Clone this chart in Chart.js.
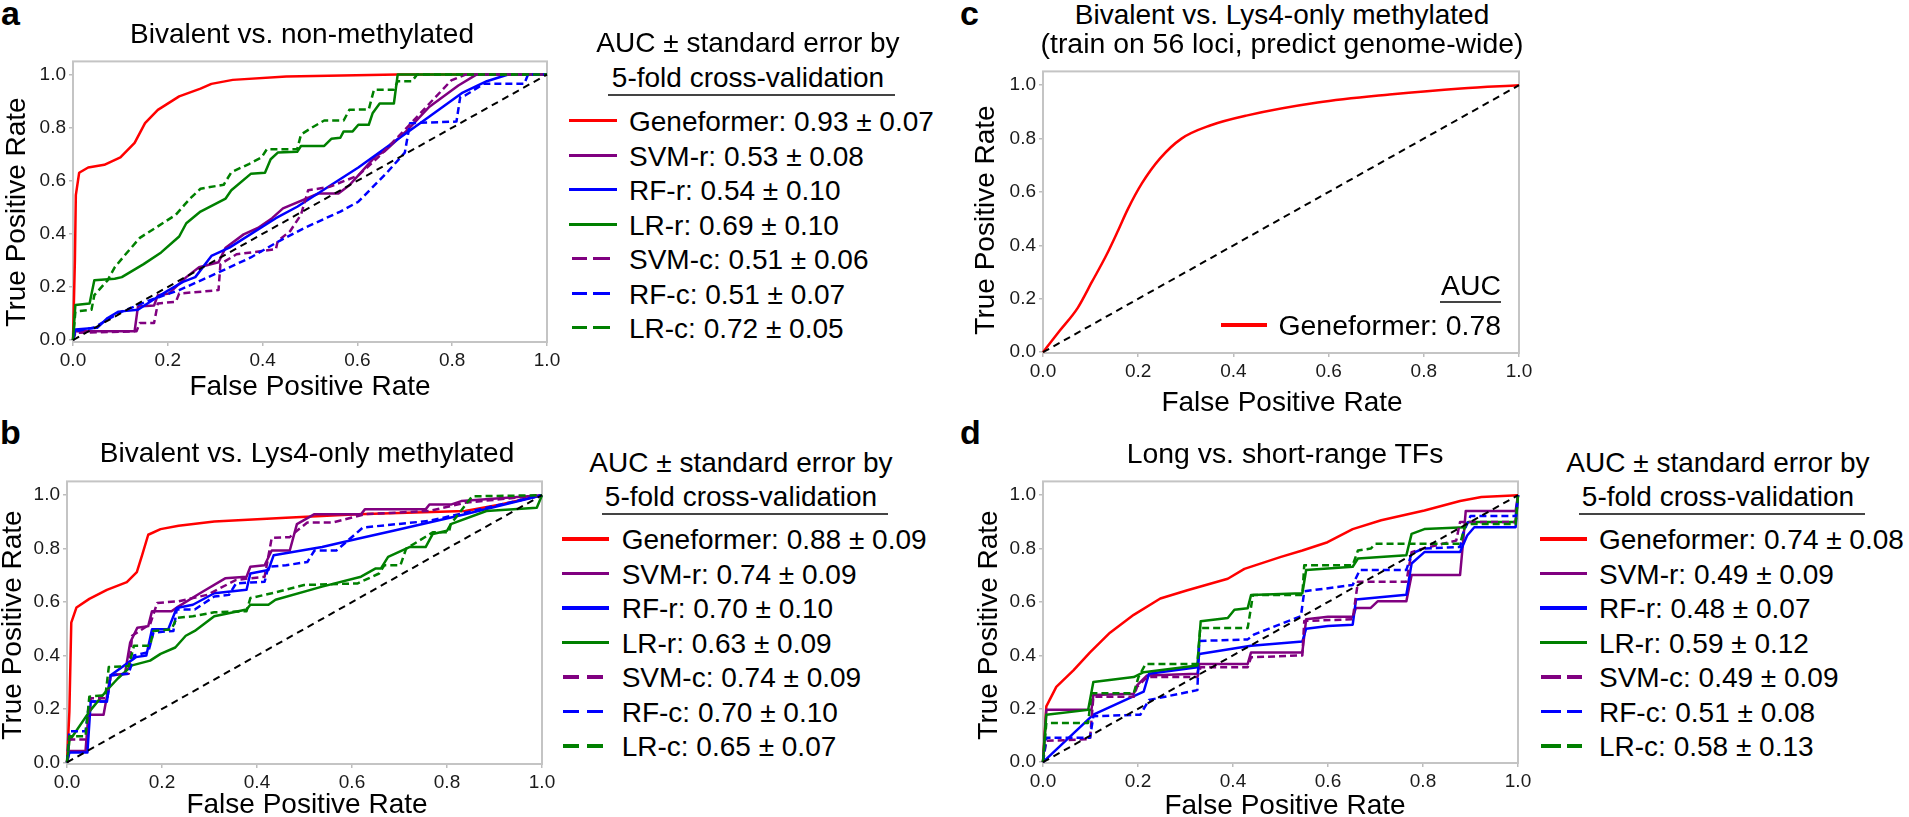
<!DOCTYPE html>
<html>
<head>
<meta charset="utf-8">
<script src="https://cdn.jsdelivr.net/npm/chart.js@4.4.1/dist/chart.umd.min.js"></script>
<style>
html,body{margin:0;padding:0;background:#fff;}
body{position:relative;width:1909px;height:817px;overflow:hidden;font-family:"Liberation Sans",Arial,Helvetica,sans-serif;color:#000;}
canvas{position:absolute;}
.t{position:absolute;white-space:nowrap;line-height:1;}
.ln{position:absolute;}
</style>
</head>
<body>
<canvas id="cA"></canvas>
<canvas id="cB"></canvas>
<canvas id="cC"></canvas>
<canvas id="cD"></canvas>
<script>
// ---------------- DATA ----------------
const tickValues = [0, 0.2, 0.4, 0.6, 0.8, 1.0];
const modelNames = ['Geneformer', 'SVM-r', 'RF-r', 'LR-r', 'SVM-c', 'RF-c', 'LR-c'];
const aucA = ['0.93 ± 0.07', '0.53 ± 0.08', '0.54 ± 0.10', '0.69 ± 0.10', '0.51 ± 0.06', '0.51 ± 0.07', '0.72 ± 0.05'];
const aucB = ['0.88 ± 0.09', '0.74 ± 0.09', '0.70 ± 0.10', '0.63 ± 0.09', '0.74 ± 0.09', '0.70 ± 0.10', '0.65 ± 0.07'];
const aucC = ['0.78'];
const aucD = ['0.74 ± 0.08', '0.49 ± 0.09', '0.48 ± 0.07', '0.59 ± 0.12', '0.49 ± 0.09', '0.51 ± 0.08', '0.58 ± 0.13'];
const chance = [[0, 0], [1, 1]];

// Panel a: Bivalent vs. non-methylated
const aGeneformer = [[0,0],[0.004,0.30],[0.006,0.546],[0.013,0.63],[0.032,0.65],[0.066,0.66],[0.10,0.688],[0.13,0.743],[0.152,0.817],[0.179,0.867],[0.224,0.918],[0.269,0.947],[0.292,0.965],[0.337,0.98],[0.45,0.993],[0.685,1.0],[1,1]];
const aSvmR = [[0,0],[0.005,0.033],[0.13,0.033],[0.137,0.126],[0.171,0.13],[0.179,0.169],[0.202,0.175],[0.239,0.237],[0.266,0.274],[0.307,0.293],[0.322,0.348],[0.36,0.398],[0.39,0.422],[0.42,0.459],[0.443,0.496],[0.518,0.552],[0.56,0.552],[0.583,0.583],[0.602,0.62],[0.639,0.694],[0.658,0.712],[0.707,0.793],[0.752,0.879],[0.813,0.959],[0.851,1.0],[1,1]];
const aRfR = [[0,0],[0.005,0.04],[0.051,0.046],[0.073,0.083],[0.096,0.107],[0.137,0.114],[0.179,0.163],[0.202,0.188],[0.232,0.219],[0.258,0.237],[0.292,0.317],[0.33,0.348],[0.428,0.459],[0.473,0.502],[0.602,0.65],[0.752,0.842],[0.82,0.93],[0.873,0.975],[0.918,1.0],[1,1]];
const aLrR = [[0,0],[0.005,0.132],[0.035,0.138],[0.045,0.225],[0.088,0.231],[0.103,0.237],[0.149,0.286],[0.186,0.33],[0.224,0.39],[0.239,0.44],[0.269,0.484],[0.322,0.533],[0.334,0.564],[0.375,0.626],[0.405,0.63],[0.417,0.681],[0.432,0.706],[0.473,0.709],[0.481,0.731],[0.53,0.731],[0.545,0.758],[0.564,0.762],[0.571,0.786],[0.59,0.786],[0.602,0.811],[0.624,0.811],[0.632,0.854],[0.647,0.891],[0.677,0.891],[0.685,1.0],[1,1]];
const aSvmC = [[0,0],[0.005,0.027],[0.134,0.033],[0.141,0.064],[0.171,0.064],[0.179,0.138],[0.217,0.144],[0.224,0.175],[0.307,0.188],[0.311,0.286],[0.345,0.323],[0.428,0.342],[0.432,0.373],[0.458,0.41],[0.481,0.472],[0.496,0.564],[0.541,0.577],[0.602,0.62],[0.647,0.694],[0.707,0.805],[0.752,0.891],[0.798,0.978],[0.828,1.0],[1,1]];
const aRfC = [[0,0],[0.005,0.033],[0.043,0.046],[0.073,0.077],[0.103,0.107],[0.164,0.151],[0.224,0.188],[0.3,0.249],[0.375,0.311],[0.435,0.373],[0.488,0.422],[0.564,0.484],[0.602,0.521],[0.662,0.63],[0.70,0.706],[0.711,0.817],[0.809,0.823],[0.817,0.916],[0.828,0.922],[0.866,0.965],[0.952,0.965],[0.96,1.0],[1,1]];
const aLrC = [[0,0],[0.005,0.107],[0.039,0.114],[0.045,0.169],[0.073,0.225],[0.088,0.274],[0.111,0.323],[0.141,0.385],[0.179,0.428],[0.217,0.472],[0.235,0.509],[0.247,0.533],[0.269,0.57],[0.318,0.585],[0.334,0.632],[0.371,0.663],[0.398,0.688],[0.409,0.719],[0.473,0.719],[0.481,0.774],[0.503,0.799],[0.53,0.827],[0.571,0.827],[0.583,0.867],[0.624,0.869],[0.635,0.943],[0.677,0.943],[0.685,0.975],[0.715,0.975],[0.726,1.0],[1,1]];

// Panel b: Bivalent vs. Lys4-only methylated
const bGeneformer = [[0,0],[0.005,0.19],[0.009,0.523],[0.02,0.58],[0.047,0.612],[0.084,0.646],[0.126,0.675],[0.147,0.712],[0.158,0.775],[0.171,0.852],[0.197,0.873],[0.235,0.886],[0.31,0.902],[0.461,0.916],[0.612,0.929],[0.838,0.941],[0.913,0.965],[1,1]];
const bSvmR = [[0,0],[0.005,0.043],[0.039,0.043],[0.045,0.178],[0.077,0.178],[0.092,0.326],[0.122,0.332],[0.133,0.449],[0.148,0.504],[0.171,0.51],[0.179,0.566],[0.22,0.566],[0.235,0.584],[0.28,0.633],[0.333,0.689],[0.378,0.695],[0.386,0.732],[0.416,0.738],[0.431,0.793],[0.469,0.793],[0.484,0.892],[0.521,0.929],[0.619,0.929],[0.627,0.947],[0.755,0.947],[0.763,0.965],[0.808,0.965],[0.83,0.978],[1,1]];
const bRfR = [[0,0],[0.005,0.037],[0.043,0.037],[0.05,0.228],[0.084,0.228],[0.092,0.326],[0.145,0.394],[0.167,0.4],[0.179,0.498],[0.213,0.498],[0.231,0.578],[0.265,0.59],[0.31,0.633],[0.378,0.646],[0.386,0.707],[0.424,0.72],[0.435,0.775],[0.537,0.806],[0.612,0.837],[0.687,0.867],[0.838,0.929],[1,1]];
const bLrR = [[0,0],[0.005,0.08],[0.047,0.19],[0.084,0.27],[0.107,0.314],[0.137,0.363],[0.175,0.381],[0.197,0.406],[0.228,0.43],[0.25,0.474],[0.269,0.492],[0.31,0.547],[0.378,0.572],[0.386,0.59],[0.424,0.59],[0.439,0.609],[0.537,0.658],[0.619,0.695],[0.65,0.726],[0.661,0.726],[0.676,0.769],[0.721,0.806],[0.755,0.806],[0.77,0.855],[0.80,0.867],[0.808,0.892],[0.883,0.941],[0.989,0.953],[1,1]];
const bSvmC = [[0,0],[0.005,0.086],[0.039,0.086],[0.05,0.24],[0.084,0.24],[0.092,0.326],[0.13,0.332],[0.137,0.474],[0.175,0.517],[0.19,0.597],[0.235,0.603],[0.295,0.627],[0.356,0.683],[0.416,0.695],[0.431,0.84],[0.469,0.843],[0.484,0.867],[0.506,0.898],[0.559,0.898],[0.627,0.929],[0.763,0.941],[0.838,0.972],[1,1]];
const bRfC = [[0,0],[0.005,0.117],[0.039,0.117],[0.047,0.228],[0.084,0.228],[0.092,0.326],[0.13,0.332],[0.141,0.4],[0.171,0.412],[0.182,0.486],[0.224,0.492],[0.231,0.572],[0.269,0.572],[0.31,0.621],[0.341,0.627],[0.356,0.67],[0.416,0.676],[0.424,0.732],[0.461,0.738],[0.506,0.75],[0.521,0.793],[0.567,0.793],[0.623,0.879],[0.763,0.904],[0.913,0.965],[1,1]];
const bLrC = [[0,0],[0.005,0.098],[0.039,0.098],[0.047,0.246],[0.081,0.252],[0.088,0.357],[0.13,0.36],[0.141,0.437],[0.175,0.437],[0.182,0.492],[0.22,0.498],[0.231,0.541],[0.265,0.547],[0.31,0.562],[0.378,0.566],[0.386,0.615],[0.431,0.633],[0.499,0.664],[0.612,0.67],[0.657,0.707],[0.668,0.738],[0.702,0.738],[0.714,0.8],[0.77,0.861],[0.804,0.861],[0.808,0.892],[0.853,0.996],[1,1]];

// Panel c: train on 56 loci, predict genome-wide
const cGeneformer = [[0,0],[0.035,0.08],[0.073,0.166],[0.103,0.264],[0.133,0.363],[0.156,0.449],[0.178,0.535],[0.208,0.633],[0.246,0.726],[0.291,0.8],[0.351,0.849],[0.427,0.886],[0.577,0.935],[0.728,0.965],[0.878,0.988],[1,1]];

// Panel d: Long vs. short-range TFs
const dGeneformer = [[0,0],[0.007,0.209],[0.028,0.282],[0.064,0.344],[0.099,0.411],[0.141,0.485],[0.191,0.552],[0.247,0.613],[0.304,0.644],[0.389,0.687],[0.424,0.724],[0.501,0.769],[0.546,0.793],[0.599,0.824],[0.652,0.873],[0.712,0.906],[0.803,0.943],[0.878,0.978],[0.923,0.993],[1,1]];
const dSvmR = [[0,0],[0.007,0.196],[0.102,0.196],[0.106,0.252],[0.191,0.256],[0.198,0.288],[0.219,0.325],[0.325,0.331],[0.329,0.368],[0.431,0.368],[0.438,0.411],[0.546,0.411],[0.554,0.535],[0.60,0.545],[0.652,0.545],[0.659,0.578],[0.69,0.578],[0.705,0.603],[0.765,0.603],[0.776,0.701],[0.878,0.701],[0.885,0.836],[0.89,0.941],[0.995,0.941],[1,1]];
const dRfR = [[0,0],[0.106,0.178],[0.212,0.264],[0.223,0.331],[0.325,0.356],[0.329,0.405],[0.438,0.436],[0.546,0.452],[0.554,0.50],[0.60,0.51],[0.652,0.515],[0.659,0.609],[0.765,0.627],[0.776,0.744],[0.803,0.787],[0.878,0.787],[0.893,0.849],[0.908,0.88],[0.995,0.88],[1,1]];
const dLrR = [[0,0],[0.007,0.178],[0.095,0.196],[0.106,0.30],[0.191,0.319],[0.212,0.337],[0.325,0.362],[0.332,0.528],[0.389,0.54],[0.403,0.571],[0.431,0.577],[0.438,0.626],[0.546,0.633],[0.554,0.72],[0.652,0.732],[0.663,0.763],[0.765,0.775],[0.776,0.855],[0.803,0.873],[0.889,0.88],[0.895,0.90],[0.995,0.90],[1,1]];
const dSvmC = [[0,0],[0.007,0.08],[0.099,0.086],[0.106,0.245],[0.191,0.245],[0.198,0.282],[0.219,0.319],[0.325,0.319],[0.332,0.356],[0.431,0.356],[0.438,0.393],[0.546,0.40],[0.55,0.529],[0.652,0.535],[0.663,0.676],[0.765,0.676],[0.776,0.787],[0.80,0.80],[0.87,0.83],[0.878,0.90],[0.995,0.90],[1,1]];
const dRfC = [[0,0],[0.007,0.092],[0.099,0.092],[0.106,0.172],[0.205,0.178],[0.223,0.233],[0.325,0.27],[0.329,0.454],[0.431,0.46],[0.445,0.479],[0.543,0.547],[0.55,0.64],[0.652,0.664],[0.667,0.72],[0.765,0.72],[0.776,0.781],[0.80,0.80],[0.878,0.806],[0.885,0.861],[0.90,0.922],[0.995,0.922],[1,1]];
const dLrC = [[0,0],[0.007,0.147],[0.095,0.147],[0.102,0.258],[0.191,0.258],[0.201,0.319],[0.216,0.368],[0.325,0.368],[0.331,0.503],[0.431,0.503],[0.442,0.626],[0.546,0.626],[0.55,0.738],[0.652,0.738],[0.663,0.793],[0.69,0.80],[0.70,0.818],[0.878,0.818],[0.89,0.892],[0.995,0.892],[1,1]];

// ---------------- STYLE / LAYOUT ----------------
const FONT = '"Liberation Sans", Arial, Helvetica, sans-serif';
const seriesColors = ['#ff0000', '#800080', '#0000ff', '#008000', '#800080', '#0000ff', '#008000'];
const seriesDashed = [false, false, false, false, true, true, true];

Chart.defaults.font.family = FONT;

const framePlugin = {
  id: 'frame',
  beforeDatasetsDraw(chart) {
    const a = chart.chartArea, ctx = chart.ctx;
    ctx.save();
    ctx.strokeStyle = '#c4c4c4';
    ctx.lineWidth = 2;
    ctx.strokeRect(a.left, a.top, a.right - a.left, a.bottom - a.top);
    ctx.restore();
  }
};

function xy(arr) { return arr.map(p => ({x: p[0], y: p[1]})); }

function makePanel(id, area, yRange, series, smooth) {
  const M = {l: 80, t: 10, r: 20, b: 60};
  const c = document.getElementById(id);
  const w = Math.round(area.right - area.left) + M.l + M.r;
  const h = Math.round(area.bottom - area.top) + M.t + M.b;
  c.width = w; c.height = h;
  c.style.width = w + 'px'; c.style.height = h + 'px';
  c.style.left = (area.left - M.l) + 'px';
  c.style.top = (area.top - M.t) + 'px';
  const datasets = [{
    data: xy(chance), borderColor: '#000', borderDash: [7, 5], borderWidth: 2
  }];
  for (let i = series.length - 1; i >= 0; i--) {
    datasets.push({
      data: xy(series[i]),
      borderColor: seriesColors[i],
      borderDash: seriesDashed[i] ? [7, 4] : [],
      borderWidth: 2.5,
      tension: smooth ? 0.4 : 0,
      cubicInterpolationMode: smooth ? 'monotone' : 'default'
    });
  }
  datasets.forEach(d => { d.showLine = true; d.pointRadius = 0; d.fill = false; d.clip = 4; d.borderJoinStyle = 'round'; });
  const tickFont = {size: 19, family: FONT};
  const grid = {display: true, drawOnChartArea: false, drawTicks: true, tickLength: 4, color: '#bdbdbd', lineWidth: 1.5};
  new Chart(c, {
    type: 'scatter',
    data: {datasets},
    plugins: [framePlugin],
    options: {
      responsive: false, animation: false, devicePixelRatio: 1,
      layout: {padding: {left: 0, top: M.t, right: M.r, bottom: 0}},
      plugins: {legend: {display: false}, tooltip: {enabled: false}},
      scales: {
        x: {
          type: 'linear', min: 0, max: 1,
          afterBuildTicks: s => { s.ticks = tickValues.map(v => ({value: v})); },
          afterFit: s => { s.height = M.b; },
          grid, border: {display: false},
          ticks: {font: tickFont, color: '#1a1a1a', padding: 3, maxRotation: 0, autoSkip: false, callback: v => Number(v).toFixed(1)}
        },
        y: {
          type: 'linear', min: yRange[0], max: yRange[1],
          afterBuildTicks: s => { s.ticks = tickValues.map(v => ({value: v})); },
          afterFit: s => { s.width = M.l; },
          grid, border: {display: false},
          ticks: {font: tickFont, color: '#1a1a1a', padding: 3, autoSkip: false, callback: v => Number(v).toFixed(1)}
        }
      }
    }
  });
}

makePanel('cA', {left: 72.5, top: 57.3, right: 546.4, bottom: 342.7}, [-0.0074, 1.0496],
  [aGeneformer, aSvmR, aRfR, aLrR, aSvmC, aRfC, aLrC], false);
makePanel('cB', {left: 67.1, top: 476.7, right: 542.1, bottom: 763.3}, [-0.006, 1.0517],
  [bGeneformer, bSvmR, bRfR, bLrR, bSvmC, bRfC, bLrC], false);
makePanel('cC', {left: 1043.2, top: 66.7, right: 1518.9, bottom: 352.3}, [-0.003, 1.0517],
  [cGeneformer], true);
makePanel('cD', {left: 1043.2, top: 476.7, right: 1517.9, bottom: 762.3}, [-0.003, 1.0517],
  [dGeneformer, dSvmR, dRfR, dLrR, dSvmC, dRfC, dLrC], false);

// ---------------- TEXT ----------------
function txt(s, x, cc, size, o) {
  o = o || {};
  const d = document.createElement('div');
  d.className = 't';
  d.textContent = s;
  d.style.fontSize = size + 'px';
  if (o.bold) d.style.fontWeight = 'bold';
  let tr = '';
  if (o.rot) {
    d.style.left = x + 'px'; d.style.top = cc + 'px';
    tr = 'translate(-50%,-50%) rotate(-90deg)';
    d.style.transformOrigin = '50% 50%';
  } else {
    d.style.left = x + 'px';
    d.style.top = (cc - 0.4885 * size) + 'px';
    if (o.align === 'center') tr = 'translateX(-50%)';
    else if (o.align === 'right') tr = 'translateX(-100%)';
  }
  if (tr) d.style.transform = tr;
  document.body.appendChild(d);
}
function hline(x1, x2, y, th, color) {
  const d = document.createElement('div');
  d.className = 'ln';
  d.style.left = x1 + 'px'; d.style.width = (x2 - x1) + 'px';
  d.style.top = (y - th / 2) + 'px'; d.style.height = th + 'px';
  d.style.background = color;
  document.body.appendChild(d);
}

// panel letters
txt('a', 1, 13, 34, {bold: true});
txt('b', 0, 432, 34, {bold: true});
txt('c', 960, 12.5, 34, {bold: true});
txt('d', 960, 432, 34, {bold: true});

// panel titles
txt('Bivalent vs. non-methylated', 302, 33.7, 28, {align: 'center'});
txt('Bivalent vs. Lys4-only methylated', 307, 453, 28, {align: 'center'});
txt('Bivalent vs. Lys4-only methylated', 1282, 15, 28, {align: 'center'});
txt('(train on 56 loci, predict genome-wide)', 1282, 43.3, 28.4, {align: 'center'});
txt('Long vs. short-range TFs', 1285, 452.5, 28.4, {align: 'center'});

// axis titles
txt('False Positive Rate', 310, 386, 28, {align: 'center'});
txt('False Positive Rate', 307, 804, 28, {align: 'center'});
txt('False Positive Rate', 1282, 402, 28, {align: 'center'});
txt('False Positive Rate', 1285, 805, 28, {align: 'center'});
txt('True Positive Rate', 16, 212, 28, {rot: true});
txt('True Positive Rate', 12, 625, 28, {rot: true});
txt('True Positive Rate', 985, 220, 28, {rot: true});
txt('True Positive Rate', 988, 625, 28, {rot: true});

// legends
function legend(L, auc) {
  txt('AUC ± standard error by', L.cx, L.t1, 28, {align: 'center'});
  txt('5-fold cross-validation', L.cx, L.t2, 28, {align: 'center'});
  hline(L.u1, L.u2, L.uy, 2, '#444');
  for (let i = 0; i < modelNames.length; i++) {
    const cc = L.e0 + i * 34.5;
    txt(modelNames[i] + ': ' + auc[i], L.tx, cc, 28);
    if (seriesDashed[i]) {
      hline(L.d1[0], L.d1[1], cc - 1, 3.2, seriesColors[i]);
      hline(L.d2[0], L.d2[1], cc - 1, 3.2, seriesColors[i]);
    } else {
      hline(L.s1, L.s2, cc - 1, 3.2, seriesColors[i]);
    }
  }
}
legend({cx: 748, t1: 43, t2: 77.8, u1: 608, u2: 895, uy: 95, e0: 121.7, tx: 629, s1: 569, s2: 617, d1: [571.7, 586.7], d2: [593.3, 610]}, aucA);
legend({cx: 741, t1: 462.7, t2: 496.7, u1: 601.7, u2: 887.7, uy: 514.3, e0: 540, tx: 621.7, s1: 561.7, s2: 609.3, d1: [563.3, 579.3], d2: [586.7, 603.3]}, aucB);
legend({cx: 1718, t1: 462.7, t2: 496.7, u1: 1579, u2: 1865, uy: 514.3, e0: 540, tx: 1599, s1: 1540, s2: 1587, d1: [1541, 1561], d2: [1567, 1582]}, aucD);

// panel c inner legend
txt('AUC', 1501, 285, 28.4, {align: 'right'});
hline(1440, 1501, 301.7, 2, '#444');
txt(modelNames[0] + ': ' + aucC[0], 1501, 325, 28.4, {align: 'right'});
hline(1221, 1267, 325, 4, seriesColors[0]);
</script>
</body>
</html>
